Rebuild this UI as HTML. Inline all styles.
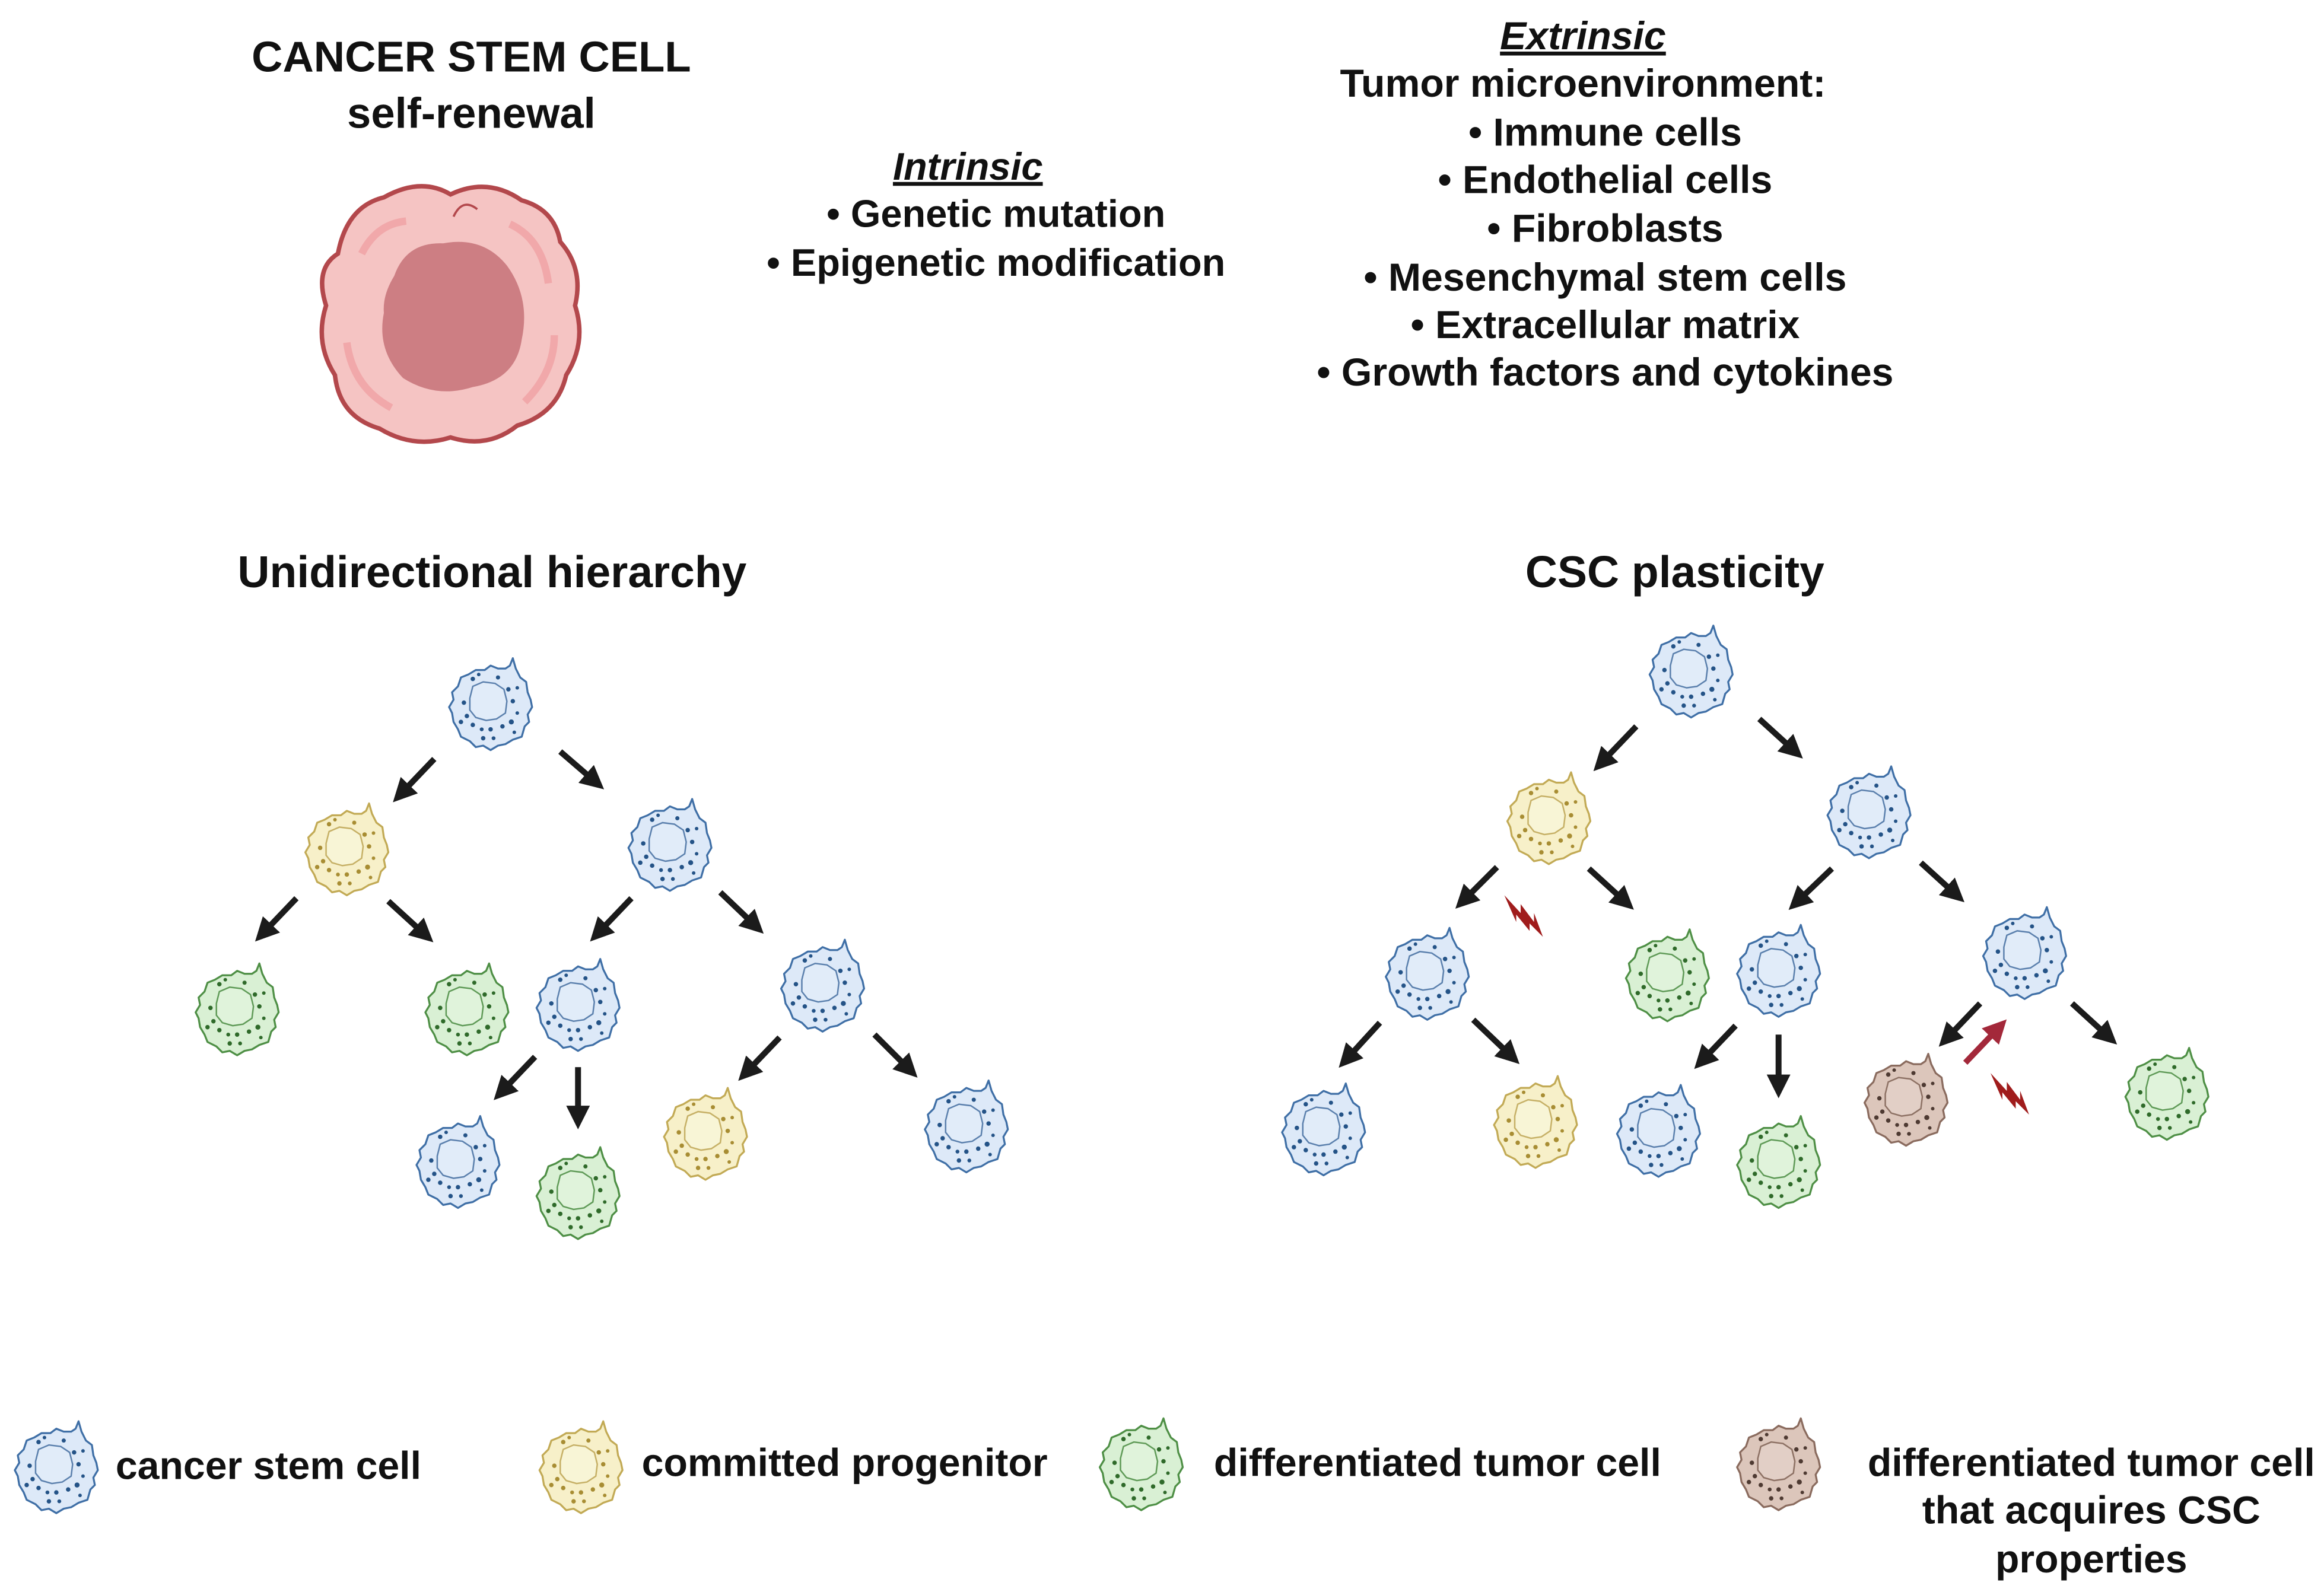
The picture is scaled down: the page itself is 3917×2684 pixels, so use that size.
<!DOCTYPE html>
<html><head><meta charset="utf-8"><style>
html,body{margin:0;padding:0;background:#fff}
svg{display:block}
text{font-family:"Liberation Sans",sans-serif;font-weight:bold;fill:#111}
</style></head><body>
<svg width="3917" height="2684" viewBox="0 0 1568 1074" xmlns="http://www.w3.org/2000/svg">
<defs>
<path id="outline" d="M28,0 L25,5 L26,10 L23,13 L21,20 L15,22 L10,25 L5,26 L0,29 L-5,26 L-10,27 L-14,23 L-20,20 L-22,15 L-25,10 L-26,4 L-28,0 L-25,-5 L-26,-10 L-22,-14 L-20,-20 L-15,-22 L-10,-25 L-4,-25 L0,-28 L5,-26 L10,-26 L13,-28 L15,-33 L17,-26 L20,-20 L24,-17 L25,-10 L27,-5 Z"/>
<path id="nuc" d="M-14,-6 L-12,-14 L-5,-17 L3,-16 L9,-12 L11,-4 L10,4 L4,8 L-3,9 L-10,7 L-14,2 Z"/>
<g id="dots">
<circle cx="-18" cy="-3" r="1.5"/><circle cx="-16" cy="6" r="1.5"/><circle cx="-20" cy="10" r="1.5"/>
<circle cx="-12" cy="12" r="1.5"/><circle cx="-6" cy="15" r="1.3"/><circle cx="0" cy="15" r="1.5"/>
<circle cx="8" cy="13" r="1.5"/><circle cx="14" cy="10" r="1.7"/><circle cx="18" cy="4" r="1.2"/>
<circle cx="15" cy="-4" r="1.5"/><circle cx="12" cy="-12" r="1.5"/><circle cx="18" cy="-13" r="1.2"/>
<circle cx="5" cy="-20" r="1.4"/><circle cx="-12" cy="-19" r="1.5"/><circle cx="-8" cy="-22" r="1.2"/>
<circle cx="-5" cy="21" r="1.5"/><circle cx="2" cy="21" r="1.3"/><circle cx="16" cy="17" r="1.2"/>
</g>
<g id="blue"><use href="#outline" fill="#dde9f8" stroke="#3f6fa6" stroke-width="1.3" stroke-linejoin="round"/><use href="#nuc" fill="#e1ecf9" stroke="#5b80ad" stroke-width="1"/><use href="#dots" fill="#245387"/></g>
<g id="yellow"><use href="#outline" fill="#f7f0c9" stroke="#c2aa55" stroke-width="1.3" stroke-linejoin="round"/><use href="#nuc" fill="#f8f5d6" stroke="#c6b066" stroke-width="1"/><use href="#dots" fill="#a88d33"/></g>
<g id="green"><use href="#outline" fill="#d9f0d4" stroke="#4e8f45" stroke-width="1.3" stroke-linejoin="round"/><use href="#nuc" fill="#e0f3db" stroke="#5f9a57" stroke-width="1"/><use href="#dots" fill="#2f6a2a"/></g>
<g id="brown"><use href="#outline" fill="#dcc6bb" stroke="#8a6b5e" stroke-width="1.3" stroke-linejoin="round"/><use href="#nuc" fill="#e2cfc6" stroke="#8d7164" stroke-width="1"/><use href="#dots" fill="#4e3a32"/></g>
<marker id="ah" markerWidth="4" markerHeight="4" refX="1.5" refY="2" orient="auto" markerUnits="strokeWidth"><path d="M0,0 L4,2 L0,4 Z" fill="#1b1b1b"/></marker>
<marker id="ahr" markerWidth="4" markerHeight="4" refX="1.5" refY="2" orient="auto" markerUnits="strokeWidth"><path d="M0,0 L4,2 L0,4 Z" fill="#a3283a"/></marker>
<path id="bolt" d="M-12,-14 L-1,-2 L-1,-8 L8,4 L8,-2 L14,14 L5,5 L5,10 L-4,-1 L-4,4 Z" fill="#a01c1c"/>
</defs>

<!-- Top -->
<text x="318" y="48" font-size="29" text-anchor="middle">CANCER STEM CELL</text>
<text x="318" y="86" font-size="29" text-anchor="middle">self-renewal</text>
<g transform="translate(304,211)">
<path d="M-45,-78 Q-20,-92 0,-80 Q25,-92 48,-76 Q70,-70 74,-48 Q90,-30 84,-5 Q92,20 78,42 Q72,68 45,76 Q25,92 0,84 Q-25,92 -48,78 Q-75,70 -78,42 Q-92,20 -84,-5 Q-92,-30 -76,-40 Q-70,-72 -45,-78 Z" fill="#f5c4c3" stroke="#b3484c" stroke-width="3"/>
<path d="M-60,-40 Q-50,-60 -30,-62 M40,-60 Q62,-50 66,-20 M-70,20 Q-66,50 -40,64 M50,60 Q70,40 70,15" stroke="#ef9d9f" stroke-width="5" fill="none" opacity=".7"/>
<path d="M-38,-25 Q-30,-48 -5,-47 Q22,-52 38,-32 Q54,-10 48,18 Q44,45 15,50 Q-10,58 -32,44 Q-50,25 -45,0 Q-46,-12 -38,-25 Z" fill="#cd7e83"/>
<path d="M2,-65 Q8,-78 18,-70" stroke="#b3484c" stroke-width="1.5" fill="none"/>
</g>

<text x="653" y="121" font-size="26" text-anchor="middle" font-style="italic" text-decoration="underline">Intrinsic </text>
<text x="672" y="153" font-size="26" text-anchor="middle">•  Genetic mutation</text>
<text x="672" y="186" font-size="26" text-anchor="middle">•  Epigenetic modification</text>

<text x="1068" y="33" font-size="26.5" text-anchor="middle" font-style="italic" text-decoration="underline">Extrinsic</text>
<text x="1068" y="65" font-size="26.5" text-anchor="middle">Tumor microenvironment:</text>
<text x="1083" y="98" font-size="26.5" text-anchor="middle">•  Immune cells</text>
<text x="1083" y="130" font-size="26.5" text-anchor="middle">•  Endothelial cells</text>
<text x="1083" y="163" font-size="26.5" text-anchor="middle">•  Fibroblasts</text>
<text x="1083" y="196" font-size="26.5" text-anchor="middle">•  Mesenchymal stem cells</text>
<text x="1083" y="228" font-size="26.5" text-anchor="middle">•  Extracellular matrix</text>
<text x="1083" y="260" font-size="26.5" text-anchor="middle">•  Growth factors and cytokines</text>

<text x="332" y="396" font-size="30" text-anchor="middle">Unidirectional hierarchy</text>
<text x="1130" y="396" font-size="30" text-anchor="middle">CSC plasticity</text>

<!-- Left tree cells -->
<use href="#blue" x="331" y="477"/>
<use href="#yellow" x="234" y="575"/>
<use href="#blue" x="452" y="572"/>
<use href="#green" x="160" y="683"/>
<use href="#green" x="315" y="683"/>
<use href="#blue" x="390" y="680"/>
<use href="#blue" x="555" y="667"/>
<use href="#blue" x="309" y="786"/>
<use href="#green" x="390" y="807"/>
<use href="#yellow" x="476" y="767"/>
<use href="#blue" x="652" y="762"/>

<g stroke="#1b1b1b" stroke-width="4" marker-end="url(#ah)" fill="none">
<line x1="293" y1="512" x2="272" y2="534"/>
<line x1="378" y1="507" x2="400" y2="526"/>
<line x1="200" y1="606" x2="179" y2="628"/>
<line x1="262" y1="608" x2="285" y2="629"/>
<line x1="426" y1="606" x2="405" y2="628"/>
<line x1="486" y1="602" x2="508" y2="623"/>
<line x1="361" y1="713" x2="340" y2="735"/>
<line x1="390" y1="720" x2="390" y2="752"/>
<line x1="526" y1="700" x2="505" y2="722"/>
<line x1="590" y1="698" x2="612" y2="720"/>
<line x1="1104" y1="490" x2="1082" y2="513"/>
<line x1="1187" y1="485" x2="1209" y2="505"/>
<line x1="1010" y1="585" x2="989" y2="606"/>
<line x1="1072" y1="586" x2="1095" y2="607"/>
<line x1="1236" y1="586" x2="1214" y2="607"/>
<line x1="1296" y1="582" x2="1318" y2="602"/>
<line x1="931" y1="690" x2="910" y2="713"/>
<line x1="994" y1="688" x2="1018" y2="711"/>
<line x1="1171" y1="692" x2="1150" y2="714"/>
<line x1="1200" y1="698" x2="1200" y2="731"/>
<line x1="1336" y1="677" x2="1315" y2="699"/>
<line x1="1398" y1="677" x2="1421" y2="698"/>
</g>
<line x1="1326" y1="717" x2="1347" y2="695" stroke="#a3283a" stroke-width="4" marker-end="url(#ahr)"/>
<use href="#bolt" x="1027" y="618"/>
<use href="#bolt" x="1355" y="738"/>

<!-- Right tree cells -->
<use href="#blue" x="1141" y="455"/>
<use href="#yellow" x="1045" y="554"/>
<use href="#blue" x="1261" y="550"/>
<use href="#blue" x="963" y="659"/>
<use href="#green" x="1125" y="660"/>
<use href="#blue" x="1200" y="657"/>
<use href="#blue" x="1366" y="645"/>
<use href="#blue" x="893" y="764"/>
<use href="#yellow" x="1036" y="759"/>
<use href="#blue" x="1119" y="765"/>
<use href="#green" x="1200" y="786"/>
<use href="#brown" x="1286" y="744"/>
<use href="#green" x="1462" y="740"/>

<!-- Legend -->
<use href="#blue" x="38" y="992"/>
<use href="#yellow" x="392" y="992"/>
<use href="#green" x="770" y="990"/>
<use href="#brown" x="1200" y="990"/>
<text x="78" y="998" font-size="26.5">cancer stem cell</text>
<text x="433" y="996" font-size="26.5">committed progenitor</text>
<text x="819" y="996" font-size="26.5">differentiated tumor cell</text>
<text x="1411" y="996" font-size="26.5" text-anchor="middle">differentiated tumor cell</text>
<text x="1411" y="1028" font-size="26.5" text-anchor="middle">that acquires CSC</text>
<text x="1411" y="1061" font-size="26.5" text-anchor="middle">properties</text>
</svg>
</body></html>
